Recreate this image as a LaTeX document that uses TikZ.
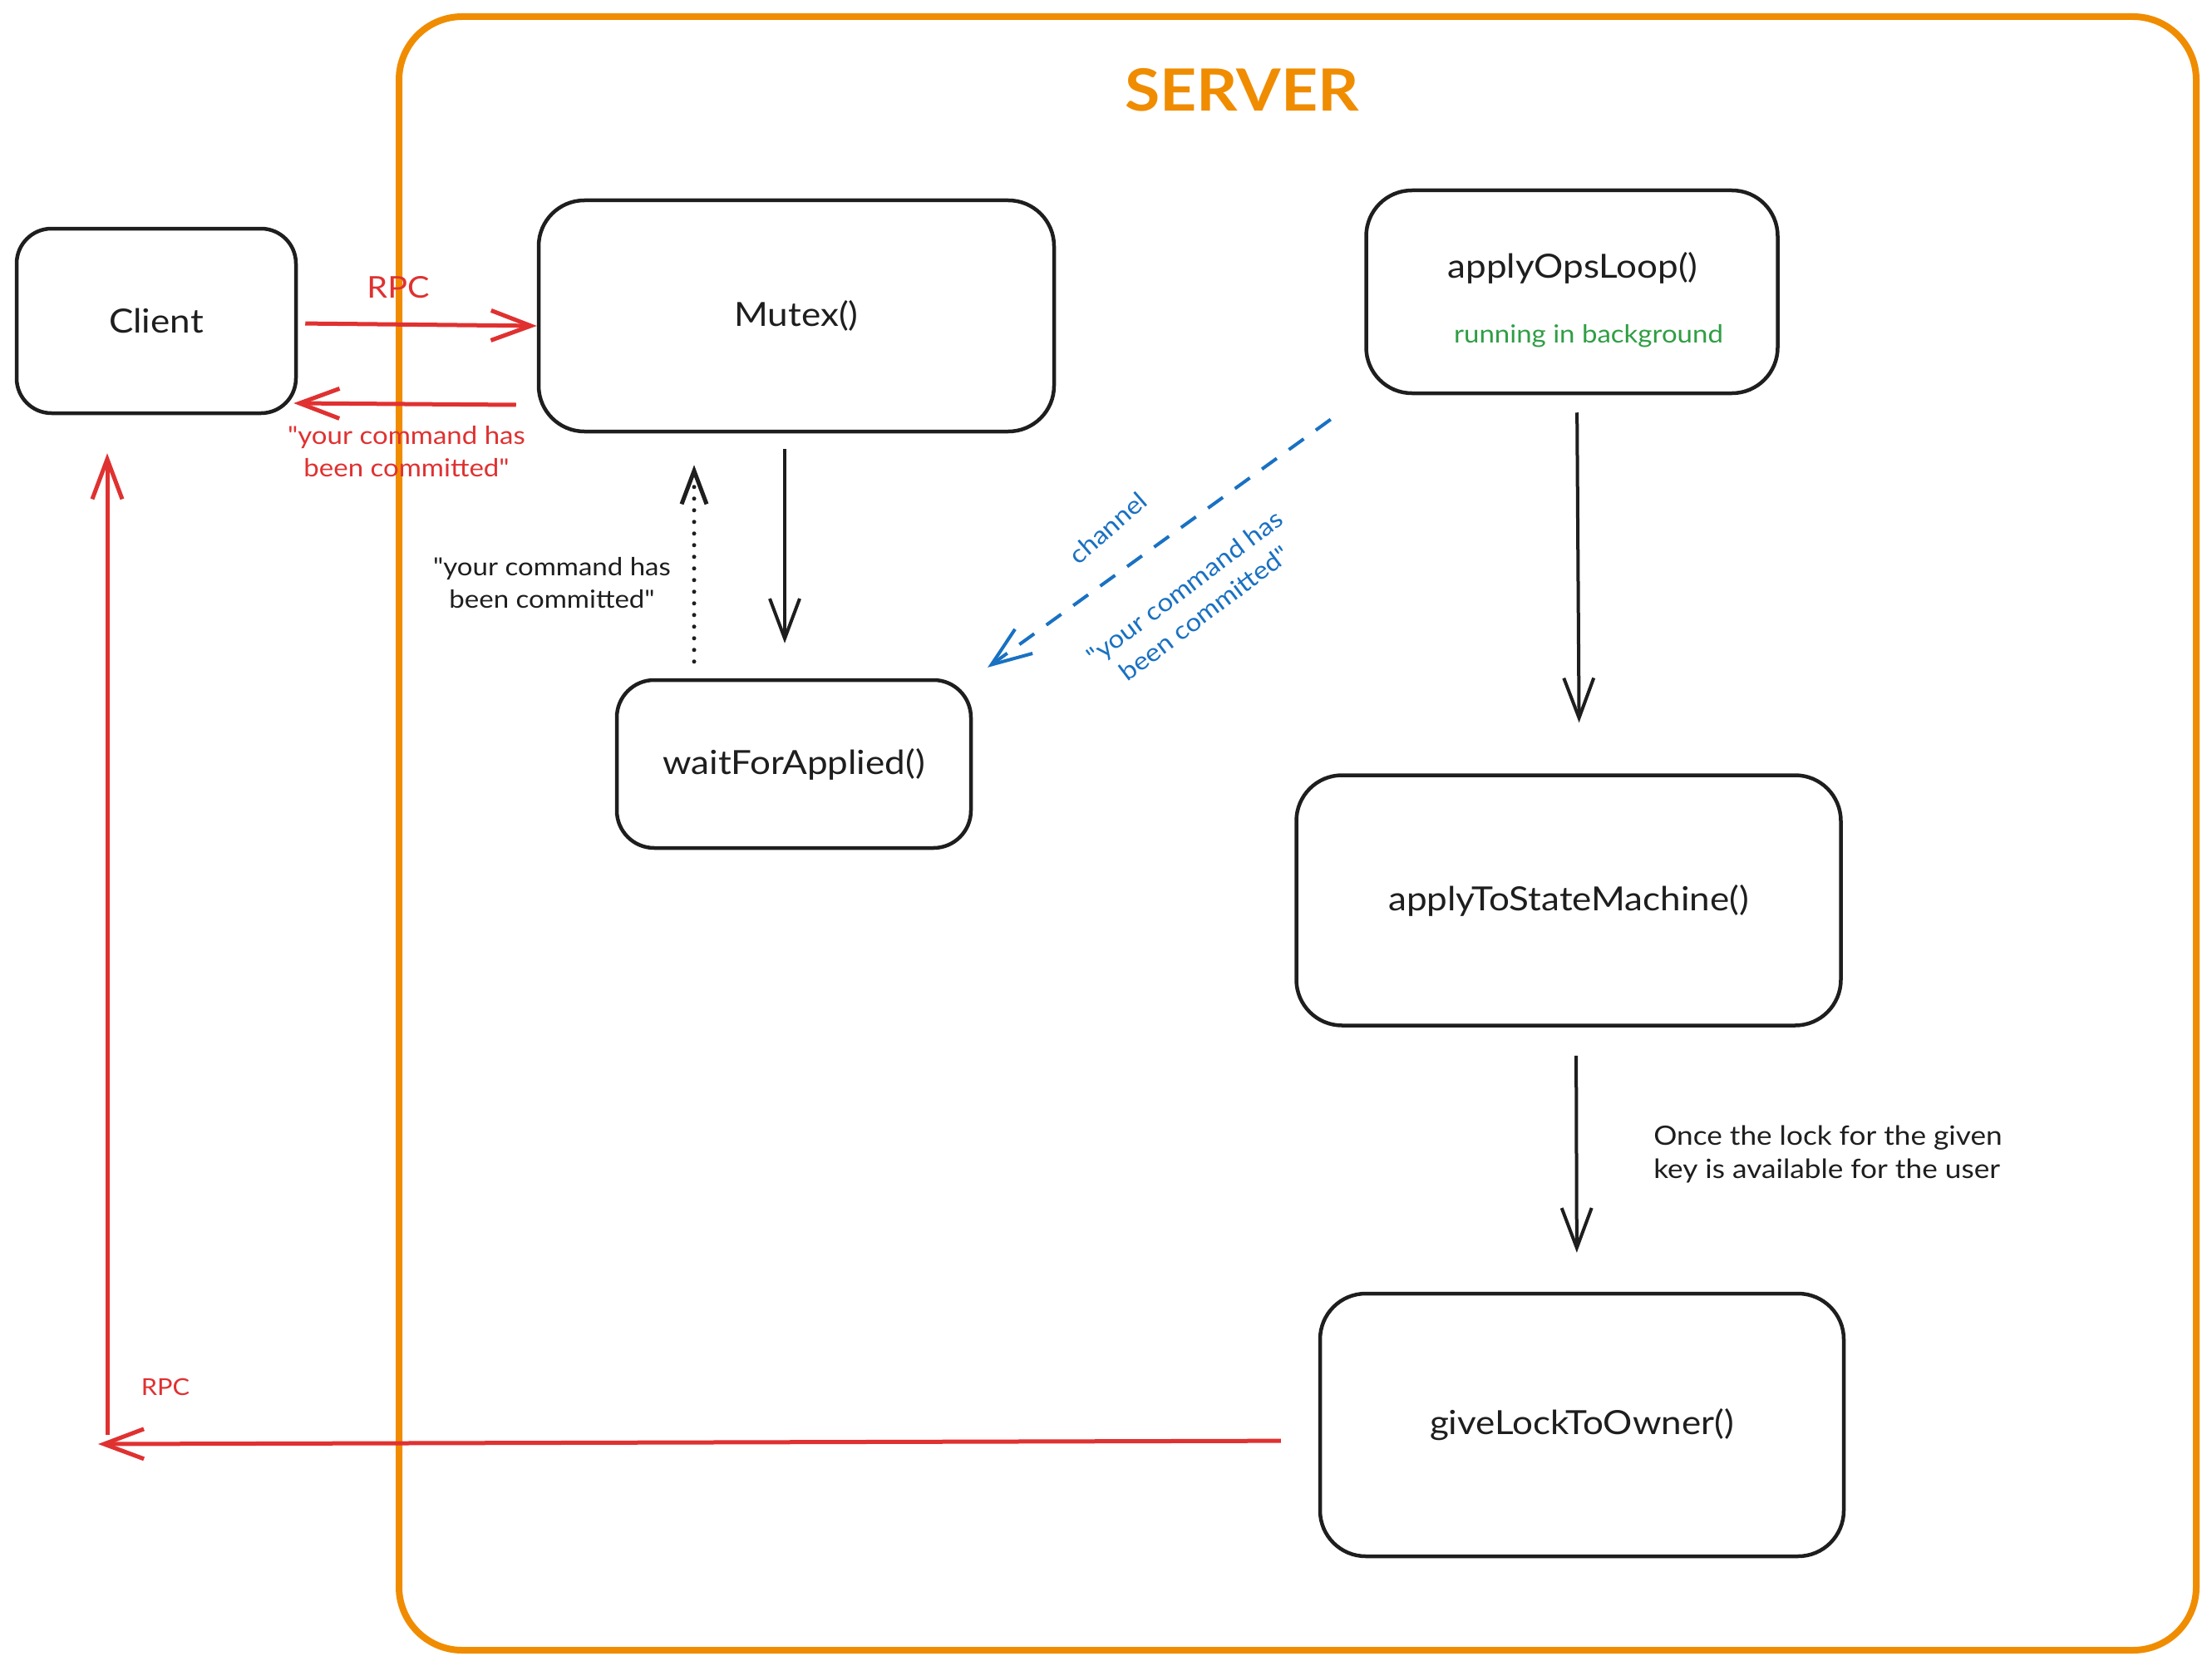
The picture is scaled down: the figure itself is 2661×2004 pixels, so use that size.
\documentclass[tikz,border=0pt]{standalone}
\usepackage{fontspec}
\setmainfont{Lato}[FakeStretch=1.1,Ligatures=TeXOff]
\usetikzlibrary{arrows.meta,calc}
\definecolor{ink}{HTML}{1E1E1E}
\definecolor{redc}{HTML}{E03131}
\definecolor{orangec}{HTML}{F08C00}
\definecolor{bluec}{HTML}{1971C2}
\definecolor{greenc}{HTML}{2F9E44}
\begin{document}
\begin{tikzpicture}[x=1pt,y=-1pt,
  box/.style={draw=ink,line width=4.5pt,rounded corners=55pt,inner sep=0pt,
              font=\fontsize{40}{48}\selectfont,text=ink},
  lbl/.style={font=\fontsize{40}{48}\selectfont,text=ink},
  note/.style={font=\fontsize{30}{39}\selectfont,align=center},
  barb/.style={-{Straight Barb[length=48pt,width=36pt]}},
  con/.style={line width=4pt,draw=ink,barb},
  redcon/.style={line width=5pt,draw=redc,barb},
]
\useasboundingbox[fill=white] (0,0) rectangle (2661,2004);
% server frame
\node[draw=orangec,line width=8pt,rounded corners=76pt,minimum width=2162pt,
      minimum height=1965pt,inner sep=0pt] (server) at (1561,1002.5) {};
\node[font=\fontsize{70}{80}\selectfont\bfseries,text=orangec] (title) at (1494,108) {SERVER};
% boxes
\node[box,rounded corners=42pt,minimum width=336pt,minimum height=222pt] (client) at (188,386) {Client};
\node[box,minimum width=620pt,minimum height=278pt] (mutex) at (958,380) {Mutex()};
\node[box,minimum width=495pt,minimum height=244pt] (ops) at (1891,351) {};
\node[lbl] (opstxt) at (1892,322) {applyOpsLoop()};
\node[note,text=greenc] (bgtxt) at (1911,404) {running in background};
\node[box,rounded corners=45pt,minimum width=426pt,minimum height=202pt] (wait) at (955,919) {waitForApplied()};
\node[box,minimum width=655pt,minimum height=301pt] (sm) at (1887,1083) {applyToStateMachine()};
\node[box,minimum width=630pt,minimum height=316pt] (give) at (1903,1714) {giveLockToOwner()};
% client <-> mutex
\draw[redcon,shorten <=9pt] ([yshift=-3pt]client.east) -- ([yshift=-12pt]mutex.west);
\node[font=\fontsize{36}{40}\selectfont,text=redc] (rpc1) at (479,346) {RPC};
\draw[redcon] ([xshift=-25pt,yshift=-107pt]mutex.west) -- ([xshift=-5pt,yshift=-99pt]client.east);
\node[note,text=redc] (committed1) at (489,543) {"your command has\\been committed"};
% mutex -> wait
\draw[con,shorten <=19pt,shorten >=42pt] ([xshift=-14pt]mutex.south) -- ([xshift=-11pt]wait.north);
% wait -> mutex dotted
\draw[ink,line width=5pt,dash pattern=on 0pt off 14pt,line cap=round,
      -{Straight Barb[length=40pt,width=30pt]},shorten <=20pt,shorten >=38pt]
      ([xshift=-120pt]wait.north) -- ([xshift=-123pt]mutex.south);
\node[note,text=ink] (committed2) at (664,701) {"your command has\\been committed"};
% channel
\draw[bluec,line width=4pt,dash pattern=on 22pt off 18pt,barb,shorten <=50pt,shorten >=22pt]
      (ops.south west) -- (wait.north east);
\node[note,text=bluec,rotate=41] (chan) at (1333,635) {channel};
\node[note,text=bluec,rotate=37] (committed3) at (1437,722) {"your command has\\been committed"};
% ops -> sm -> give
\draw[con,shorten <=21pt,shorten >=61pt] ([xshift=6pt]ops.south) -- ([xshift=13pt]sm.north);
\draw[con,shorten <=34pt,shorten >=47pt] ([xshift=9pt]sm.south) -- ([xshift=-6pt]give.north);
\node[font=\fontsize{32}{40}\selectfont,align=left,text=ink] (oncelbl) at (2199,1388) {Once the lock for the given\\key is available for the user};
% give -> client
\coordinate (turn) at (118,1737);
\coordinate (upstart) at (129,1726);
\draw[redcon,shorten <=45pt] ([yshift=-19pt]give.west) -- (turn);
\node[font=\fontsize{28}{32}\selectfont,text=redc] (rpc2) at (199,1668) {RPC};
\draw[redcon,shorten >=46pt] (upstart) -- ([xshift=-59pt]client.south);
\end{tikzpicture}
\end{document}
